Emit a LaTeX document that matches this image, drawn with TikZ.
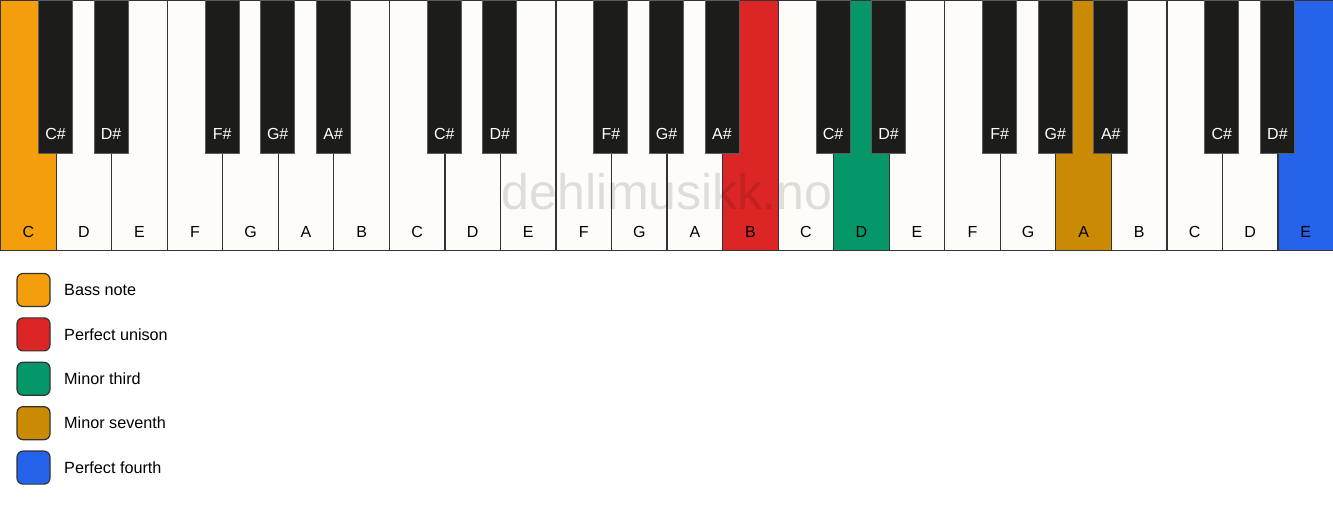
\documentclass[tikz,border=0pt]{standalone}
\usepackage{fontspec}
\setmainfont{Liberation Sans}
\definecolor{ivory}{HTML}{FDFCF9}
\definecolor{ebony}{HTML}{1C1C1A}
\definecolor{keyedge}{HTML}{333333}
\definecolor{bassnote}{HTML}{F59E0B}
\definecolor{unison}{HTML}{DC2626}
\definecolor{minthird}{HTML}{059669}
\definecolor{minseventh}{HTML}{CA8A04}
\definecolor{perffourth}{HTML}{2563EB}
\tikzset{
    whitekey/.style={draw=keyedge, line width=1.2pt, anchor=north west,
        minimum width=55.54pt, minimum height=250pt, inner sep=0pt},
    blackkey/.style={draw=keyedge!80, fill=ebony, line width=1pt,
        minimum width=34pt, minimum height=153pt, inner sep=0pt, anchor=north},
    keylabel/.style={font=\fontsize{16}{19}\selectfont},
    swatch/.style={draw=keyedge, line width=1.2pt, rounded corners=6pt,
        minimum size=33pt, inner sep=0pt},
    legendtext/.style={anchor=west, inner sep=0pt, font=\fontsize{16.2}{19}\selectfont}
}

\begin{document}
\begin{tikzpicture}[x=1pt, y=1pt]
    \useasboundingbox (0,0) rectangle (1333,506);
    % white keys
    \foreach \n/\c [count=\i from 0] in {C/bassnote, D/ivory, E/ivory, F/ivory,
        G/ivory, A/ivory, B/ivory, C/ivory, D/ivory, E/ivory, F/ivory, G/ivory,
        A/ivory, B/unison, C/ivory, D/minthird, E/ivory, F/ivory, G/ivory,
        A/minseventh, B/ivory, C/ivory, D/ivory, E/perffourth} {
        \node[whitekey, fill=\c] (w\i) at (\i*55.54,506) {};
        \node[keylabel] (wl\i) at ([yshift=19pt]w\i.south) {\n};
    }
    % watermark
    \node[font=\fontsize{50}{60}\selectfont, text=black, text opacity=0.12]
        (mark) at (667,314) {dehlimusikk.no};
    % black keys
    \foreach \b/\n in {1/C\#, 2/D\#, 4/F\#, 5/G\#, 6/A\#, 8/C\#, 9/D\#, 11/F\#,
        12/G\#, 13/A\#, 15/C\#, 16/D\#, 18/F\#, 19/G\#, 20/A\#, 22/C\#, 23/D\#} {
        \node[blackkey] (b\b) at (\b*55.54,506) {};
        \node[keylabel, text=white] (bl\b) at ([yshift=20pt]b\b.south) {\n};
    }
    % legend
    \foreach \c/\t [count=\i from 0] in {bassnote/Bass note, unison/Perfect unison,
        minthird/Minor third, minseventh/Minor seventh, perffourth/Perfect fourth} {
        \node[swatch, fill=\c] (s\i) at (33.5,216-\i*44.4) {};
        \node[legendtext] (t\i) at (64,216-\i*44.4) {\t};
    }
\end{tikzpicture}
\end{document}
